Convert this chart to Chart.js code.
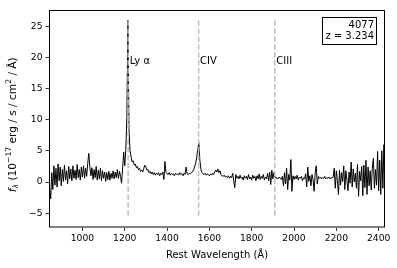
<!DOCTYPE html>
<html>
<head>
<meta charset="utf-8">
<script src="https://cdn.jsdelivr.net/npm/chart.js@4"></script>
<style>
html, body { margin: 0; padding: 0; background: #fff; }
</style>
</head>
<body>
<canvas id="myChart" width="397" height="268"></canvas>
<script>
// spectrum sampled every 5 A from 845 A (rest frame)
const waveStart = 845;
const waveStep = 5;
const flux = [
    -1.0, -2.7, 1.5, -1.2, 2.6, -0.5, 2.2, -0.8, 2.9, 0.2,
    2.4, -0.6, 2.0, 0.1, 2.7, 0.3, 1.8, -0.3, 2.5, 0.5,
    2.1, 0.2, 2.6, 0.6, 1.9, 0.4, 2.8, 0.7, 2.0, 0.3,
    2.4, 0.8, 2.6, 0.6, 2.2, 0.9, 3.0, 4.6, 2.4, 1.0,
    2.3, 0.4, 2.0, 0.7, 2.5, 0.3, 1.9, 0.5, 2.2, 0.2,
    1.8, 0.6, 1.6, 0.1, 1.5, 0.4, 1.7, 0.3, 1.4, 0.6,
    1.8, 0.5, 1.6, 0.7, 2.0, 0.6, 1.7, 0.9, -0.2, 2.3,
    4.8, 2.6, 5.2, 10.5, 26.0, 8.5, 5.0, 4.0, 3.2, 3.4,
    2.7, 2.9, 2.3, 2.5, 2.0, 2.2, 1.7, 1.9, 1.6, 2.2,
    2.7, 2.4, 1.9, 2.0, 1.5, 1.7, 1.3, 1.6, 1.2, 1.5,
    1.1, 1.4, 1.2, 1.5, 1.0, 1.4, 1.2, 1.6, 0.4, 3.3,
    1.5, 1.3, 1.2, 1.5, 1.1, 1.4, 1.2, 1.3, 1.0, 1.4,
    1.2, 1.3, 1.1, 1.5, 1.2, 1.3, 1.0, 1.4, 1.2, 2.4,
    1.3, 1.2, 1.4, 1.3, 1.5, 1.6, 1.9, 2.4, 3.0, 3.9,
    5.2, 6.3, 3.5, 2.0, 1.5, 1.3, 1.2, 1.4, 1.1, 1.3,
    1.2, 1.0, 1.3, 1.1, 1.4, 1.2, 1.6, 1.9, 1.6, 2.1,
    1.5, 1.8, 1.2, 1.0, 0.9, 1.1, 0.8, 0.9, 0.7, 1.0,
    0.6, 0.9, 0.7, 1.4, 0.2, -0.9, 1.2, 0.6, 0.9, 0.5,
    1.1, 0.6, 0.8, 0.3, 1.0, 0.6, 0.9, 0.4, 1.2, 0.5,
    0.8, 0.3, 1.1, 0.6, 0.9, 0.2, 1.0, 0.5, 1.3, 0.4,
    0.9, 0.6, 1.2, 0.3, 0.8, 0.5, 1.4, 0.2, 1.6, -0.4,
    1.9, 0.5, 1.5, 0.8, 0.6, 0.7, 0.5, 0.8, 0.6, 0.4,
    0.9, -0.6, 1.5, -0.3, 2.2, -1.2, 1.2, 0.3, 3.6, -1.5,
    1.0, 0.4, 0.9, 0.5, 1.1, 0.3, 0.8, 0.6, 0.9, 0.2,
    0.7, 0.5, 1.3, -0.8, 2.4, 0.1, 1.0, -0.6, 1.2, 0.4,
    -1.5, 1.5, 2.6, -0.3, 0.9, 0.6, 0.8, 0.5, 0.7, 0.6,
    0.9, 0.5, 0.7, 0.6, 0.8, 0.5, 0.7, 0.6, 0.8, 2.2,
    -1.0, 1.8, 0.2, -2.0, 1.9, -0.5, 1.5, 0.1, 2.6, -1.2,
    1.8, 0.3, -1.4, 1.6, -0.2, 3.2, -0.8, 2.1, 0.0, 1.4,
    -1.0, 2.8, -2.3, 1.7, 0.2, 2.5, -2.2, 2.7, -0.9, 3.5,
    -2.0, 2.4, -0.6, 1.8, -1.3, 2.2, 3.8, -1.0, 2.0, -0.5,
    4.9, -1.4, 3.5, -2.0, 5.0, -1.0, 6.0, -2.8
];
const wavelength = flux.map((f, i) => waveStart + i * waveStep);

// emission lines marked on the plot
const lineNames = ['Ly α', 'CIV', 'CIII'];
const lineWaves = [1216, 1549, 1909];
const lineBottom = -5.7;
const lineTop = 25.9;
const labelLevel = 19.3;

const objectId = '4077';
const redshift = 'z = 3.234';

const xTicks = [1000, 1200, 1400, 1600, 1800, 2000, 2200, 2400];
const yTicks = [-5, 0, 5, 10, 15, 20, 25];

const fontFamily = 'DejaVu Sans';
const tickSize = 9.2;
const textSize = 10;
const yTitleSize = 10.6;

Chart.defaults.font.family = fontFamily;
Chart.defaults.font.size = tickSize;
Chart.defaults.color = '#000';

// matplotlib style minus sign, no thousands separator
const fmt = (v) => String(v).replace('-', '−');

// dashed line markers, frame, info box and the y label with sub/superscripts
const overlay = {
    id: 'overlay',
    afterDatasetsDraw(chart) {
        const { ctx, chartArea, scales: { x, y } } = chart;
        ctx.save();

        ctx.strokeStyle = '#bdbdbd';
        ctx.lineWidth = 1.5;
        ctx.setLineDash([5.5, 2.4]);
        ctx.fillStyle = '#000';
        ctx.font = textSize + 'px ' + fontFamily;
        ctx.textBaseline = 'middle';
        lineWaves.forEach((w, i) => {
            const px = x.getPixelForValue(w);
            ctx.beginPath();
            ctx.moveTo(px, y.getPixelForValue(lineTop));
            ctx.lineTo(px, y.getPixelForValue(lineBottom));
            ctx.stroke();
            ctx.fillText(lineNames[i], px + 1.5, y.getPixelForValue(labelLevel));
        });

        ctx.setLineDash([]);
        ctx.strokeStyle = '#000';
        ctx.lineWidth = 1;
        ctx.strokeRect(chartArea.left + 0.5, chartArea.top + 0.5,
            chartArea.right - chartArea.left - 1, chartArea.bottom - chartArea.top - 1);

        // info box
        const bx = 322.5, by = 17.5, bw = 54, bh = 27;
        ctx.strokeRect(bx, by, bw, bh);
        ctx.textAlign = 'right';
        ctx.fillText(objectId, bx + bw - 2.5, by + 7.5);
        ctx.fillText(redshift, bx + bw - 2.5, by + 19);

        // y axis title
        const big = yTitleSize + 'px ' + fontFamily;
        const small = (yTitleSize * 0.72) + 'px ' + fontFamily;
        const parts = [
            { t: 'f', f: 'italic ' + big, dy: 0 },
            { t: 'λ', f: 'italic ' + small, dy: 2.3 },
            { t: ' (10', f: big, dy: 0 },
            { t: '−17', f: small, dy: -4 },
            { t: ' erg / s / cm', f: big, dy: 0 },
            { t: '2', f: small, dy: -4 },
            { t: ' / Å)', f: big, dy: 0 }
        ];
        let total = 0;
        parts.forEach(p => { ctx.font = p.f; p.w = ctx.measureText(p.t).width; total += p.w; });
        ctx.translate(13.5, (chartArea.top + chartArea.bottom) / 2 + 6);
        ctx.rotate(-Math.PI / 2);
        ctx.textAlign = 'left';
        let cx = -total / 2;
        parts.forEach(p => {
            ctx.font = p.f;
            ctx.fillText(p.t, cx, p.dy);
            cx += p.w;
        });
        ctx.restore();
    }
};

const ctx = document.getElementById('myChart').getContext('2d');
const myChart = new Chart(ctx, {
    type: 'line',
    data: {
        datasets: [{
            data: wavelength.map((w, i) => ({ x: w, y: flux[i] })),
            borderColor: '#000',
            borderWidth: 1,
            pointRadius: 0,
            tension: 0
        }]
    },
    options: {
        responsive: false,
        animation: false,
        layout: { padding: { top: 10, right: 12, left: 0, bottom: 0 } },
        plugins: { legend: { display: false }, tooltip: { enabled: false } },
        scales: {
            x: {
                type: 'linear',
                min: 842,
                max: 2430,
                afterBuildTicks: (s) => { s.ticks = xTicks.map(v => ({ value: v })); },
                afterFit: (s) => { s.height = 40.5; },
                border: { display: false },
                grid: { drawOnChartArea: false, drawTicks: true, tickLength: 3.5, color: '#000', tickWidth: 0.8 },
                ticks: { padding: 2, maxRotation: 0, autoSkip: false, color: '#000', callback: fmt },
                title: { display: true, text: 'Rest Wavelength (Å)', font: { size: textSize }, padding: { top: 0, bottom: 7 }, color: '#000' }
            },
            y: {
                min: -7.3,
                max: 27.6,
                afterBuildTicks: (s) => { s.ticks = yTicks.map(v => ({ value: v })); },
                afterFit: (s) => { s.width = 49; },
                border: { display: false },
                grid: { drawOnChartArea: false, drawTicks: true, tickLength: 3.5, color: '#000', tickWidth: 0.8 },
                ticks: { padding: 3, autoSkip: false, color: '#000', callback: fmt }
            }
        }
    },
    plugins: [overlay]
});
</script>
</body>
</html>
